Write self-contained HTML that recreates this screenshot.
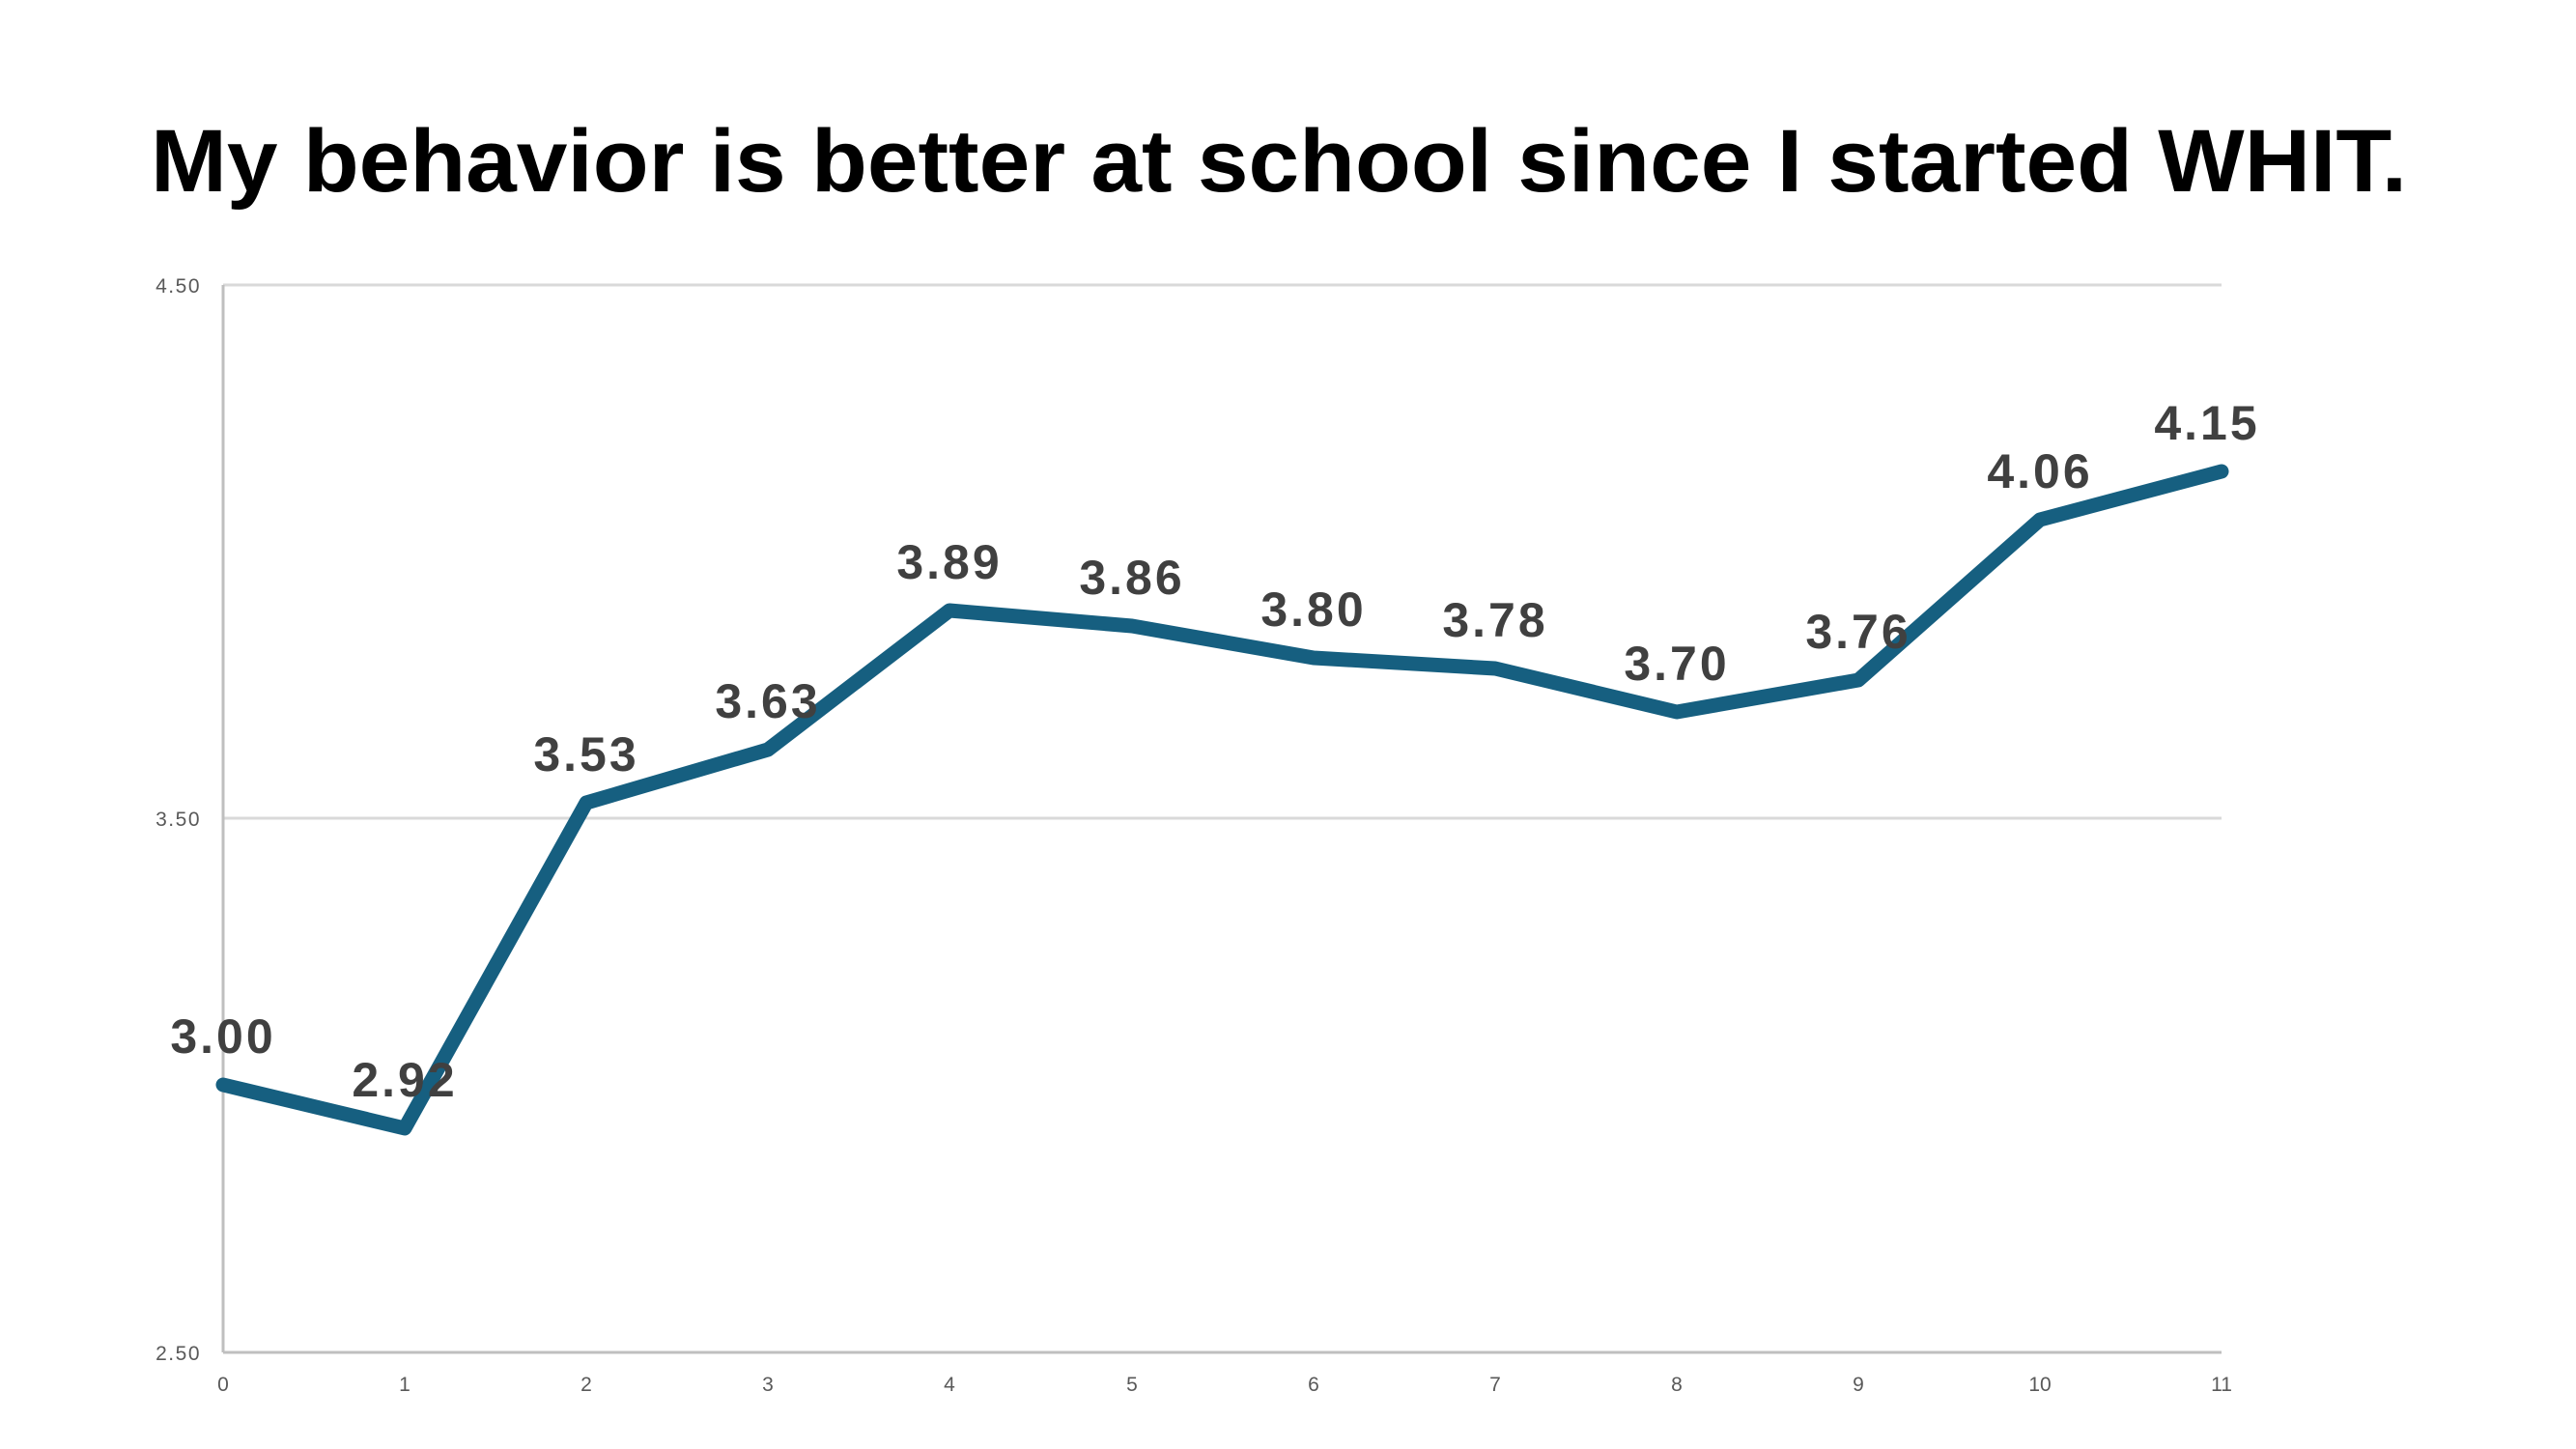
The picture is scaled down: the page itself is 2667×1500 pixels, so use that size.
<!DOCTYPE html>
<html><head><meta charset="utf-8"><style>html,body{margin:0;padding:0;background:#fff}svg{display:block}</style></head>
<body>
<svg width="2667" height="1500" viewBox="0 0 2667 1500" xmlns="http://www.w3.org/2000/svg">
<text x="1324" y="198" text-anchor="middle" font-family="Liberation Sans, sans-serif" font-weight="bold" font-size="92" fill="#000" textLength="2336" lengthAdjust="spacingAndGlyphs">My behavior is better at school since I started WHIT.</text>
<g stroke="#d9d9d9" stroke-width="3">
<line x1="231" y1="295" x2="2300" y2="295"/>
<line x1="231" y1="847" x2="2300" y2="847"/>
</g>
<g stroke="#bfbfbf" stroke-width="3">
<line x1="231" y1="295" x2="231" y2="1400"/>
<line x1="231" y1="1400" x2="2300" y2="1400"/>
</g>
<g font-family="Liberation Sans, sans-serif" font-size="21" fill="#595959" text-anchor="end" letter-spacing="1.5">
<text x="208" y="303">4.50</text>
<text x="208" y="855">3.50</text>
<text x="208" y="1408">2.50</text>
</g>
<g font-family="Liberation Sans, sans-serif" font-size="21" fill="#595959" text-anchor="middle">
<text x="231" y="1440">0</text><text x="419" y="1440">1</text><text x="607" y="1440">2</text><text x="795" y="1440">3</text><text x="983" y="1440">4</text><text x="1172" y="1440">5</text><text x="1360" y="1440">6</text><text x="1548" y="1440">7</text><text x="1736" y="1440">8</text><text x="1924" y="1440">9</text><text x="2112" y="1440">10</text><text x="2300" y="1440">11</text>
</g>
<polyline fill="none" stroke="#165f80" stroke-width="15" stroke-linejoin="round" stroke-linecap="round"
points="231,1123 419,1168 607,831 795,776 983,632 1172,648 1360,681 1548,692 1736,737 1924,704 2112,538 2300,488"/>
<g font-family="Liberation Sans, sans-serif" font-weight="bold" font-size="50" fill="#404040" text-anchor="middle" letter-spacing="3">
<text x="231" y="1090">3.00</text>
<text x="419" y="1135">2.92</text>
<text x="607" y="798">3.53</text>
<text x="795" y="743">3.63</text>
<text x="983" y="599">3.89</text>
<text x="1172" y="615">3.86</text>
<text x="1360" y="648">3.80</text>
<text x="1548" y="659">3.78</text>
<text x="1736" y="704">3.70</text>
<text x="1924" y="671">3.76</text>
<text x="2112" y="505">4.06</text>
<text x="2285" y="455">4.15</text>
</g>
</svg>
</body></html>
